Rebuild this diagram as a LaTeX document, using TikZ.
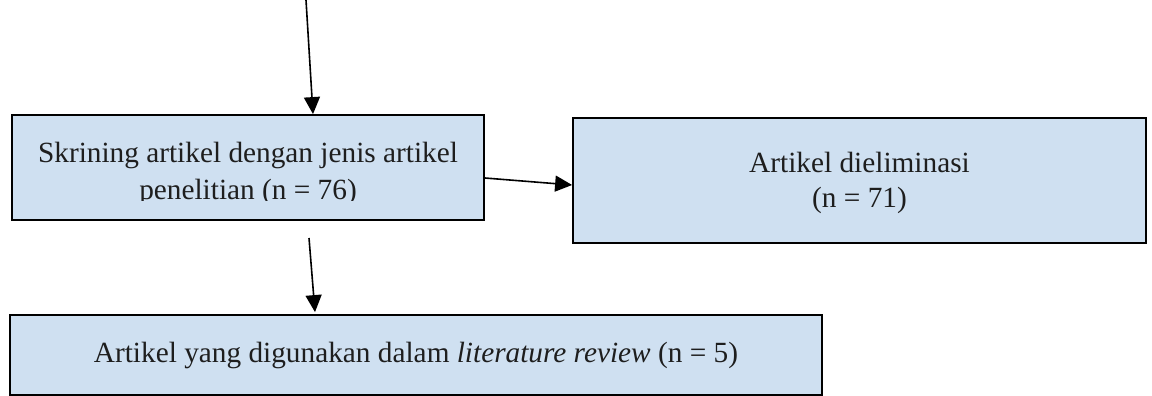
\documentclass[tikz,border=0pt]{standalone}
\usepackage{fontspec}
\setmainfont{Liberation Serif}
\usetikzlibrary{arrows.meta}
\definecolor{boxfill}{RGB}{207,224,241}
\definecolor{txt}{RGB}{30,30,30}
\tikzset{
  flowbox/.style={draw=black, fill=boxfill, line width=1.8pt, inner sep=0pt},
  lbl/.style={text=txt, inner sep=0pt, anchor=base, font=\fontsize{29.3}{37}\selectfont},
  arr/.style={line width=1.6pt, -{Triangle[length=17pt,width=16pt]}}
}
\begin{document}
\begin{tikzpicture}[x=1pt,y=-1pt]
\useasboundingbox (0,0) rectangle (1152,396);
% boxes
\node[flowbox, minimum width=472pt, minimum height=105pt] (b1) at (248,167.5) {};
\node[flowbox, minimum width=573pt, minimum height=125pt] (b2) at (859.5,180.5) {};
\node[flowbox, minimum width=812pt, minimum height=80pt] (b3) at (416,355) {};
% texts
\node[lbl] (t1a) at (248,162) {Skrining artikel dengan jenis artikel};
\begin{scope}
  \clip (12,115) rectangle (484,200.5);
  \node[lbl] (t1b) at (248,199) {penelitian (n = 76)};
\end{scope}
\node[lbl] (t2a) at (859.5,172) {Artikel dieliminasi};
\node[lbl] (t2b) at (859.5,207) {(n = 71)};
\node[lbl] (t3) at (416,362) {Artikel yang digunakan dalam \textit{literature review} (n = 5)};
% connectors
\coordinate (s1) at (306,0);
\coordinate (c1) at (313,0);
\draw[arr] (s1) -- (c1 |- b1.north);
\draw[arr] ([yshift=-10.5pt]b1.east) -- ([yshift=-4.5pt]b2.west);
\coordinate (s3) at (309,238);
\coordinate (c3) at (315,0);
\draw[arr] (s3) -- ([yshift=2pt]c3 |- b3.north);
\end{tikzpicture}
\end{document}
